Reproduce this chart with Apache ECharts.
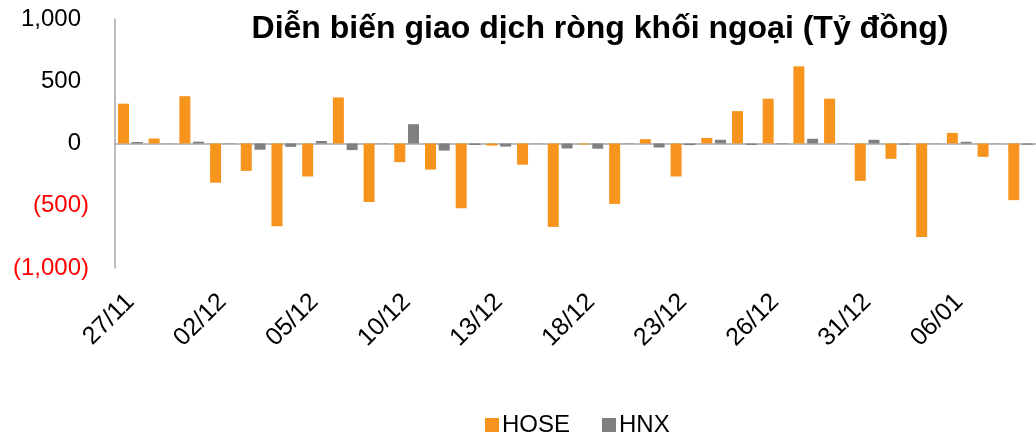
<!DOCTYPE html>
<html>
<head>
<meta charset="utf-8">
<script src="https://cdn.jsdelivr.net/npm/echarts@6/dist/echarts.min.js"></script>
<style>
  html, body { margin: 0; padding: 0; background: #fff; }
  #main { width: 1036px; height: 439px; }
</style>
</head>
<body>
<div id="main"></div>
<script>
var dates = ['27/11', '28/11', '29/11', '02/12', '03/12', '04/12', '05/12', '06/12', '09/12', '10/12',
  '11/12', '12/12', '13/12', '16/12', '17/12', '18/12', '19/12', '20/12', '23/12', '24/12',
  '25/12', '26/12', '27/12', '30/12', '31/12', '02/01', '03/01', '06/01', '07/01', '08/01'];
var hose = [320, 40, 380, -315, -220, -665, -265, 370, -470, -150,
  -210, -520, -17, -170, -670, -8, -485, 35, -265, 45,
  260, 360, 620, 360, -300, -123, -750, 85, -107, -455];
var hnx = [12, 2, 15, -3, -50, -27, 20, -53, -3, 155,
  -57, -12, -25, 2, -40, -42, 3, -32, -13, 30,
  -12, -5, 38, -3, 30, -8, 2, 14, 2, -10];

var font = 'Arial, "Liberation Sans", sans-serif';
var chart = echarts.init(document.getElementById('main'));

function fmtY(v) {
  var s = Math.abs(v).toLocaleString('en-US');
  if (v < 0) return '{n|(' + s + ')}';
  return '{p|' + s + '}';
}

chart.setOption({
  animation: false,
  title: {
    text: 'Diễn biến giao dịch ròng khối ngoại (Tỷ đồng)',
    left: 595,
    textAlign: 'center',
    top: 8,
    textStyle: { fontFamily: font, fontSize: 32, fontWeight: 'bold', color: '#000' }
  },
  legend: {
    left: 480,
    top: 408,
    itemWidth: 14,
    itemHeight: 14,
    itemGap: 32,
    icon: 'rect',
    textStyle: { fontFamily: font, fontSize: 24, color: '#000', padding: [0, 0, 0, -2] },
    data: ['HOSE', 'HNX']
  },
  grid: { left: 115, right: -12, top: 19, bottom: 171 },
  xAxis: [{
    type: 'category',
    data: dates,
    axisLine: { show: false, onZero: false },
    axisTick: { show: false },
    axisLabel: {
      interval: 2,
      rotate: 45,
      margin: 30,
      fontFamily: font,
      fontSize: 25,
      color: '#000'
    }
  }, {
    type: 'category',
    data: dates,
    axisLine: { show: true, onZero: true, lineStyle: { color: '#a6a6a6', width: 1.5 } },
    axisTick: { show: false },
    axisLabel: { show: false }
  }],
  yAxis: {
    type: 'value',
    min: -1000,
    max: 1000,
    interval: 500,
    axisLine: { show: true, lineStyle: { color: '#a6a6a6', width: 1.5 } },
    axisTick: { show: false },
    splitLine: { show: false },
    axisLabel: {
      margin: 26,
      formatter: fmtY,
      rich: {
        p: { fontFamily: font, fontSize: 24, color: '#000', padding: [0, 8, 0, 0] },
        n: { fontFamily: font, fontSize: 24, color: '#ff0000' }
      }
    }
  },
  series: [{
    name: 'HOSE',
    type: 'bar',
    data: hose,
    barWidth: 11,
    barGap: '25%',
    itemStyle: { color: '#f7941e' }
  }, {
    name: 'HNX',
    type: 'bar',
    data: hnx,
    barWidth: 11,
    itemStyle: { color: '#808083' }
  }]
});
</script>
</body>
</html>
